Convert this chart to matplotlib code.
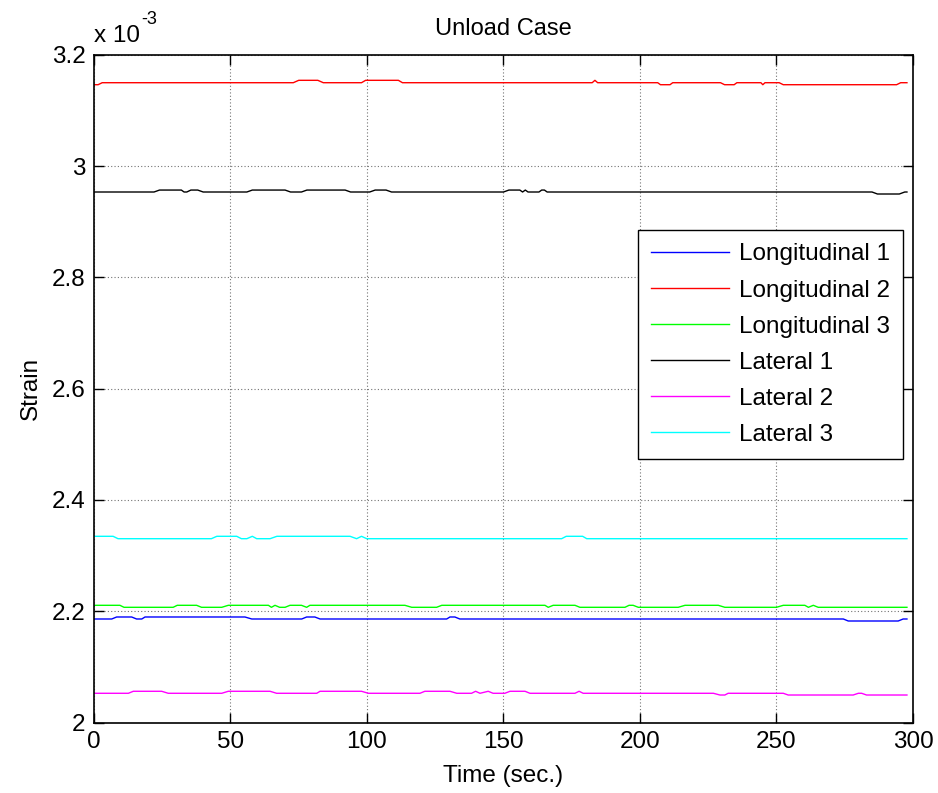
import numpy as np
import matplotlib
matplotlib.use('Agg')
import matplotlib.pyplot as plt
from matplotlib.ticker import FuncFormatter

# strain values are in units of 1e-3 (axis shows "x 10^-3")
t_long1 = [0, 6.5, 8.3, 13.8, 15.6, 17.5, 18.7, 55.3, 57.8, 76.1, 77.9, 80.9, 82.8, 129.2, 130.4,
           132.2, 134.0, 274.5, 276.3, 294.6, 296.4, 297.8]
v_long1 = [2.1860, 2.1860, 2.1896, 2.1896, 2.1860, 2.1860, 2.1896, 2.1896, 2.1860, 2.1860, 2.1896,
           2.1896, 2.1860, 2.1860, 2.1896, 2.1896, 2.1860, 2.1860, 2.1824, 2.1824, 2.1860, 2.1860]

t_long2 = [0, 1.5, 3, 73, 75, 82, 84, 98, 99.5, 111.5, 113, 182.5, 183.5, 184.5, 206.5, 207.5, 211,
           212, 229.5, 231, 234.5, 235.5, 244.3, 245, 245.8, 251, 252.5, 294, 295.5, 297.8]
v_long2 = [3.1461, 3.1461, 3.1497, 3.1497, 3.1540, 3.1540, 3.1497, 3.1497, 3.1540, 3.1540, 3.1497,
           3.1497, 3.1540, 3.1497, 3.1497, 3.1461, 3.1461, 3.1497, 3.1497, 3.1461, 3.1461, 3.1497,
           3.1497, 3.1461, 3.1497, 3.1497, 3.1461, 3.1461, 3.1497, 3.1497]

t_long3 = [0, 9.5, 11, 29, 30.5, 37.6, 39.4, 46.8, 49.2, 63.9, 65, 66.3, 68, 70, 71.8, 76, 77.9, 79.1,
           113.9, 116.4, 125.5, 127.4, 165.2, 166.4, 168.2, 176.2, 178, 194.5, 196, 197.5, 199.4, 214,
           216.5, 228.7, 231.1, 250, 252.5, 260.4, 261.7, 263.5, 265.3, 297.8]
v_long3 = [2.2106, 2.2106, 2.2070, 2.2070, 2.2106, 2.2106, 2.2070, 2.2070, 2.2106, 2.2106,
           2.2070, 2.2106, 2.2070, 2.2070, 2.2106, 2.2106, 2.2070, 2.2106, 2.2106, 2.2070,
           2.2070, 2.2106, 2.2106, 2.2070, 2.2106, 2.2106, 2.2070, 2.2070, 2.2106, 2.2106,
           2.2070, 2.2070, 2.2106, 2.2106, 2.2070, 2.2070, 2.2106, 2.2106, 2.2070, 2.2106,
           2.2070, 2.2070]

t_lat1 = [0, 22, 24, 32, 33, 34, 35.5, 38, 40, 56, 58, 70, 72, 76, 78, 92, 94, 101, 103, 107, 109,
          150, 152, 156, 157, 158, 159, 163, 164, 165, 166, 285, 287, 295, 297, 297.8]
v_lat1 = [2.9533, 2.9533, 2.9568, 2.9568, 2.9533, 2.9533, 2.9568, 2.9568, 2.9533, 2.9533, 2.9568,
          2.9568, 2.9533, 2.9533, 2.9568, 2.9568, 2.9533, 2.9533, 2.9568, 2.9568, 2.9533, 2.9533,
          2.9568, 2.9568, 2.9533, 2.9568, 2.9533, 2.9533, 2.9568, 2.9568, 2.9533, 2.9533, 2.9497,
          2.9497, 2.9533, 2.9533]

t_lat2 = [0, 12.6, 14.4, 24.8, 27.2, 46.8, 49.2, 64.5, 66.9, 81.6, 82.8, 98, 100.5, 119.4, 121.2,
          130.4, 132.9, 138.3, 139.8, 141.4, 144.4, 146.2, 150.5, 152.4, 157.9, 159.7, 176.2, 177.7,
          179.2, 226.9, 229.3, 231.1, 232.3, 252.5, 254.3, 278.1, 280, 281.2, 283, 297.8]
v_lat2 = [2.0525, 2.0525, 2.0561, 2.0561, 2.0525, 2.0525, 2.0561, 2.0561, 2.0525, 2.0525,
          2.0561, 2.0561, 2.0525, 2.0525, 2.0561, 2.0561, 2.0525, 2.0525, 2.0561, 2.0525,
          2.0561, 2.0525, 2.0525, 2.0561, 2.0561, 2.0525, 2.0525, 2.0561, 2.0525, 2.0525,
          2.0494, 2.0494, 2.0525, 2.0525, 2.0494, 2.0494, 2.0525, 2.0525, 2.0494, 2.0494]

t_lat3 = [0, 7, 8.8, 43, 45, 52.3, 54, 56, 58, 59.6, 64.5, 67, 93.8, 96.2, 98, 99.9, 171.3, 173,
          179, 180.5, 297.8]
v_lat3 = [2.3346, 2.3346, 2.3303, 2.3303, 2.3346, 2.3346, 2.3303, 2.3303, 2.3346, 2.3303, 2.3303,
          2.3346, 2.3346, 2.3303, 2.3346, 2.3303, 2.3303, 2.3346, 2.3346, 2.3303, 2.3303]

labels = ['Longitudinal 1', 'Longitudinal 2', 'Longitudinal 3', 'Lateral 1', 'Lateral 2', 'Lateral 3']
colors = ['#0000ff', '#ff0000', '#00ff00', '#000000', '#ff00ff', '#00ffff']
series = [(t_long1, v_long1), (t_long2, v_long2), (t_long3, v_long3),
          (t_lat1, v_lat1), (t_lat2, v_lat2), (t_lat3, v_lat3)]

plt.rcParams['font.family'] = ['Liberation Sans', 'DejaVu Sans']
fs = 17.5

fig = plt.figure(figsize=(9.38, 7.93), dpi=100)
ax = fig.add_axes([0.1002, 0.0889, 0.8731, 0.8421])

for (t, v), c, lab in zip(series, colors, labels):
    ax.plot(t, v, color=c, lw=1.0, label=lab)

ax.set_xlim(0, 300)
ax.set_ylim(2.0, 3.2)
ax.set_xticks(np.arange(0, 301, 50))
ax.set_yticks(np.arange(2.0, 3.21, 0.2))
ax.yaxis.set_major_formatter(FuncFormatter(lambda y, p: '%g' % round(y, 1)))
ax.tick_params(direction='in', top=True, right=True, length=7, width=1, labelsize=fs, pad=6)
ax.grid(True, color='0.45', linestyle=(0, (1, 2)), lw=0.8)
for s in ax.spines.values():
    s.set_linewidth(1.2)

ax.set_title('Unload Case', fontsize=17, pad=14)
ax.set_xlabel('Time (sec.)', fontsize=fs, labelpad=9)
ax.set_ylabel('Strain', fontsize=fs, labelpad=7)
# multiplier shown the MATLAB way: "x 10" with a raised "-3"
ax.text(0.0, 1.012, 'x 10', transform=ax.transAxes, fontsize=fs, ha='left', va='bottom')
ax.text(0.058, 1.04, '-3', transform=ax.transAxes, fontsize=13, ha='left', va='bottom')

leg = ax.legend(loc='upper right', bbox_to_anchor=(0.988, 0.7375), fontsize=fs,
                fancybox=False, framealpha=1, edgecolor='black', handlelength=3.2,
                handletextpad=0.4, labelspacing=0.58, borderpad=0.55, borderaxespad=0)
leg.get_frame().set_linewidth(1.0)

fig.savefig('out.png', dpi=100)
